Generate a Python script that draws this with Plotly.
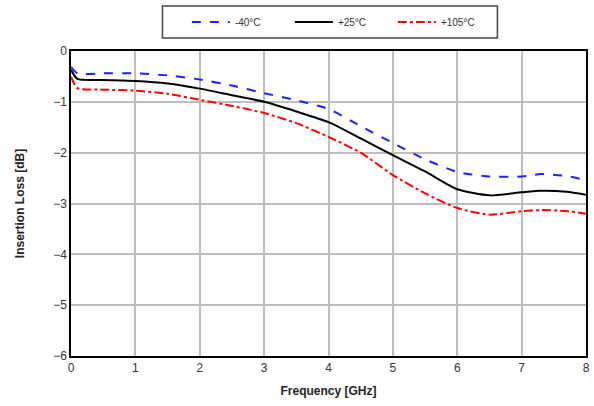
import plotly.graph_objects as go

freq = [0, 0.1, 0.5, 1, 1.5, 2, 2.5, 3, 3.5, 4, 4.5, 5, 5.5, 6, 6.5, 7, 7.3, 7.7, 8]
il_m40 = [-0.31, -0.44, -0.44, -0.44, -0.48, -0.56, -0.68, -0.83, -0.97, -1.14, -1.48, -1.81, -2.13, -2.38, -2.47, -2.47, -2.42, -2.46, -2.54]
il_p25 = [-0.37, -0.55, -0.57, -0.59, -0.64, -0.74, -0.87, -1.0, -1.19, -1.4, -1.72, -2.05, -2.37, -2.72, -2.84, -2.78, -2.75, -2.77, -2.83]
il_p105 = [-0.51, -0.73, -0.76, -0.78, -0.84, -0.96, -1.08, -1.22, -1.42, -1.69, -2.0, -2.44, -2.8, -3.09, -3.22, -3.15, -3.13, -3.15, -3.2]

names = ["-40°C", "+25°C", "+105°C"]
x_ticks = [0, 1, 2, 3, 4, 5, 6, 7, 8]
y_ticks = [0, -1, -2, -3, -4, -5, -6]

fig = go.Figure()
styles = [("#1f1fff", "dash"), ("#000000", "solid"), ("#ff0000", "dashdot")]
for name, ys, (col, dash) in zip(names, [il_m40, il_p25, il_p105], styles):
    fig.add_trace(go.Scatter(x=freq, y=ys, name=name, mode="lines",
                             line=dict(color=col, dash=dash, width=2, shape="spline", smoothing=0.6)))

# legend frame
fig.add_shape(type="rect", xref="paper", yref="paper", x0=0.1776, x1=0.828, y0=1.043, y1=1.1475,
              line=dict(color="#444", width=1.5), fillcolor="white", layer="below")

fig.update_layout(
    width=594, height=406,
    margin=dict(l=71, r=4, t=51, b=50),
    paper_bgcolor="white", plot_bgcolor="white",
    font=dict(family="Liberation Sans, Arial, sans-serif", size=12, color="#333"),
    legend=dict(orientation="h", x=0.225, xanchor="left", y=1.095, yanchor="middle",
                borderwidth=0, bgcolor="rgba(0,0,0,0)",
                font=dict(size=10, color="#333"), itemwidth=38,
                entrywidthmode="pixels", entrywidth=50),
    xaxis=dict(range=[0, 8], tickvals=x_ticks, showgrid=True, gridcolor="#bdbdbd", gridwidth=1.5,
               showline=True, linecolor="black", linewidth=1.5, mirror=True, zeroline=False,
               ticks="", ticklen=0,
               title=dict(text="<b>Frequency [GHz]</b>", font=dict(size=12, color="#222"), standoff=12)),
    yaxis=dict(range=[-6, 0], tickvals=y_ticks, showgrid=True, gridcolor="#bdbdbd", gridwidth=1.5,
               showline=True, linecolor="black", linewidth=1.5, mirror=True, zeroline=False,
               ticks="", ticklen=0,
               title=dict(text="<b>Insertion Loss [dB]</b>", font=dict(size=12, color="#222"), standoff=26)),
)

fig.write_html("out.html")
